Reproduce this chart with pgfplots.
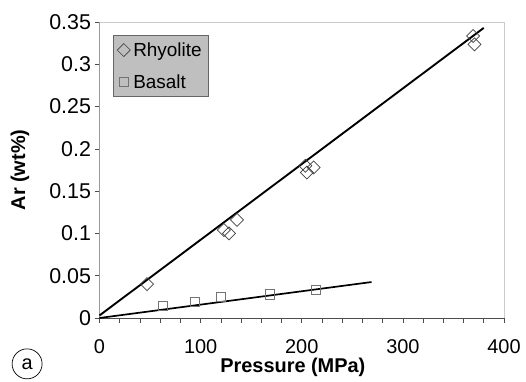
\documentclass[border=0pt]{standalone}
\usepackage{pgfplots}
\pgfplotsset{compat=1.18}
\usepackage{fontspec}
\setmainfont{Liberation Sans}
\begin{document}
\begin{tikzpicture}
\begin{axis}[
  scale only axis,
  width=404.5bp, height=296bp,
  xmin=0, xmax=400, ymin=0, ymax=0.35,
  clip=false,
  axis line style={draw=none},
  tick pos=left,
  tick align=outside,
  major tick length=5bp, minor tick length=5bp,
  xtick={0,100,200,300,400},
  xticklabels={0,100,200,300,400},
  minor x tick num=4,
  ytick={0,0.05,0.1,0.15,0.2,0.25,0.3,0.35},
  yticklabels={0,0.05,0.1,0.15,0.2,0.25,0.3,0.35},
  every tick/.style={black!70, line width=0.6pt},
  tick label style={font=\fontsize{20}{23}\selectfont},
  yticklabel style={font=\fontsize{21.5}{24}\selectfont},
  xticklabel shift=13bp,
  xlabel={\textbf{Pressure (MPa)}},
  ylabel={\textbf{Ar (wt\%)}},
  label style={font=\fontsize{20}{23}\selectfont},
  xlabel style={at={(axis description cs:0.478,-0.168)}, anchor=center},
  ylabel style={at={(axis description cs:-0.1965,0.5)}, anchor=center, rotate=0},
  legend style={at={(axis description cs:0.033,0.956)}, anchor=north west,
    fill=gray!50, draw=black!60, line width=0.8pt,
    font=\fontsize{19}{22}\selectfont, inner xsep=4bp, inner ysep=5bp, row sep=13bp,
    nodes={inner xsep=3bp},
    cells={anchor=west}},
  legend cell align=left,
  legend image code/.code={\draw[#1] plot coordinates {(0.15cm,0cm)};},
]
% frame
\draw[gray!40, line width=0.8pt] (rel axis cs:0,1) -- (rel axis cs:1,1) -- (rel axis cs:1,0);
\draw[gray!80, line width=0.8pt] (rel axis cs:0,0) -- (rel axis cs:0,1);
\draw[black!70, line width=0.8pt] (rel axis cs:-0.01,0) -- (rel axis cs:1,0);
% bounding box helper
\path (rel axis cs:-0.246,-0.2162) rectangle (rel axis cs:1.0544,1.0743);
% fit lines
\addplot[black, line width=1.9pt, forget plot] coordinates {(0,0.003) (380,0.343)};
\addplot[black, line width=1.7pt, forget plot] coordinates {(0,0) (269,0.0425)};
% data
\addplot[only marks, mark=square, mark size=4.6bp, mark options={rotate=45, draw=black!75, line width=0.7pt}]
 coordinates {(47,0.040) (123,0.104) (128,0.100) (136,0.116) (203.5,0.180) (205,0.172) (211.7,0.178) (369.5,0.3335) (370.8,0.3236)};
\addlegendentry{Rhyolite}
\addplot[only marks, mark=square, mark size=4.6bp, mark options={draw=black!55, line width=0.8pt}]
 coordinates {(62.6,0.0142) (94.3,0.0193) (120,0.0252) (168.8,0.028) (214,0.0335)};
\addlegendentry{Basalt}
\node[circle, draw, line width=0.7pt, inner sep=2.5bp, minimum size=30bp, font=\fontsize{20}{23}\selectfont] at (axis description cs:-0.179,-0.155) {a};
\end{axis}
\end{tikzpicture}
\end{document}
